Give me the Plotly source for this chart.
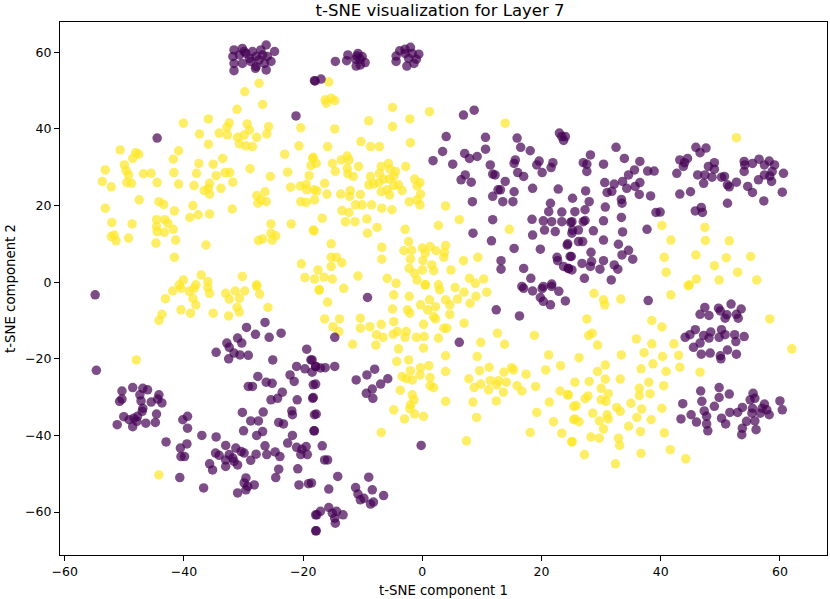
import plotly.graph_objects as go

# class 0 (purple) points: (x, y)
purple_x = [
    -31.6, -30.2, -28.5, -27.1, -26.2, -24.8, -31.8, -30.7, -29.6, -29.0, -27.9, -26.8, -26.0, -25.4, -31.6, -30.2,
    -28.8, -27.9, -26.5, -31.6, -28.0, -26.2, -29.9, -27.4, -18.0, -21.2, -44.5,
    -54.9, -54.7,
    -50.4, -48.6, -46.9, -46.1, -50.8, -50.4, -47.4, -47.2, -45.5, -44.2, -44.4, -43.7, -46.9, -47.0, -44.6, -50.1,
    -49.2, -47.8, -47.9, -51.2, -48.6, -46.4, -44.8, -48.4,
    -40.2, -39.4, -39.4, -43.0, -40.6, -39.5, -40.5, -39.9, -37.0, -34.6, -40.7, -36.7,
    -33.0, -31.3, -30.4, -34.7, -34.1, -32.4, -31.8, -33.0, -31.6, -31.0, -33.0, -35.7, -35.2, -29.9, -28.8, -27.9,
    -26.4, -26.1, -24.7, -23.9, -24.1, -24.6, -29.6, -29.9, -29.3, -28.2, -31.0, -29.6,
    -29.5, -28.0, -26.4, -25.7, -23.7, -32.8, -31.0, -30.3, -32.4, -34.6, -31.6, -30.6, -29.2, -32.5, -25.1, -29.2,
    -28.5, -27.6, -26.2, -25.2, -25.4, -24.3, -23.5, -22.2, -21.5, -21.1, -19.7, -19.4, -18.7, -18.5, -17.9, -18.3,
    -21.0, -18.4, -30.2, -28.8, -27.5, -26.7, -30.0, -27.8, -26.8, -24.1, -23.3, -21.9, -21.8, -22.6, -21.8, -21.1,
    -20.2, -20.4, -19.3, -19.5, -18.1, -18.1, -20.9, -20.7, -19.1, -17.9, -17.9,
    -9.2, -14.7, -18.5, -17.9, -17.1, -16.3, -14.7, -17.9, -18.3, -17.8, -18.2, -16.8, -16.4, -15.9,
    -11.1, -9.3, -8.0, -5.8, -7.0, -8.4, -9.4, -8.3, 6.2, -0.2, -18.6, -14.2, -15.7,
    -17.8, -17.7, -17.1, -15.7, -15.1, -14.4, -14.7, -13.3, -14.6,
    -11.2, -10.8, -9.8, -8.4, -9.0, -8.2, -8.7, -6.5, -10.4,
    17.0, 18.5, 20.1, 19.8, 20.3, 21.5, 22.9, 24.0, 21.7, 12.4, 16.3,
    37.9, 47.4, 49.7, 51.8, 53.5, 46.6, 48.1, 50.0, 51.1, 50.8, 52.7, 53.0, 45.8, 44.1, 44.9, 47.2,
    48.4, 50.2, 49.8, 50.8, 52.4, 54.0, 52.6, 45.5, 46.6, 48.1, 46.8, 48.3, 50.0, 51.2, 50.1, 52.7,
    46.7, 49.8, 49.8, 51.5, 43.7, 46.9, 47.3, 49.0, 45.1, 43.4, 46.0, 47.7, 47.7, 47.9, 50.2, 50.9,
    51.6, 52.9, 53.7, 55.0, 55.5, 55.8, 55.4, 55.3, 54.4, 53.7, 53.6, 55.8, 56.0, 56.7, 57.4, 57.8,
    58.2, 57.0, 60.0, 60.4,
    -14.6, -12.7, -12.5, -11.2, -10.8, -10.4, -9.6, -11.1, -10.4, -11.0, -10.1,
    -3.8, -2.9, -2.0, -4.4, -2.9, -1.7, -0.6, -4.4, -2.6, -1.4, -1.0, -2.3, -18.1, -17.0,
    6.9, 8.7, 4.0, 10.6, 15.9, 16.5, 18.1, 23.0, 23.4, 23.7, 1.8, 3.4, 5.1, 7.1, 7.9, 9.2,
    10.6, 11.4, 6.5, 7.2, 8.2, 11.8, 12.2, 13.9, 15.4, 15.6, 16.0, 17.0, 19.6, 19.2, 20.1, 21.9,
    21.6, 12.7, 13.1, 11.8, 13.5, 15.2, 15.4, 18.5, 22.8, 8.4, 11.8, 8.5, 11.6, 15.4, 13.2, 13.2,
    17.0, 18.2, 16.7, 18.4, 20.3, 21.5, 21.2, 20.5, 21.7, 22.3, 23.4, 24.9, 23.4, 18.5, 19.8, 22.6,
    22.7, 23.7, 24.5, 24.8, 24.3, 25.1, 20.3, 21.7,
    24.0, 32.5, 27.0, 27.6, 28.2, 27.6, 30.4, 33.9, 36.5, 35.6, 34.6, 33.6, 32.2, 30.6, 37.8, 38.9,
    36.5, 35.7, 34.3, 31.0, 31.8, 36.4, 38.3, 27.4, 25.2, 28.0, 33.4, 33.5, 30.7, 27.3, 25.6, 33.4,
    30.4, 39.2, 39.9, 25.1, 27.0, 27.3, 25.2, 26.2, 28.7, 33.6, 37.7, 30.4, 26.2, 26.9, 24.4, 32.9,
    28.3, 34.6, 33.5, 35.3, 25.0, 26.8, 28.4, 28.2, 29.8, 30.4, 32.2, 32.8, 24.5, 25.1, 27.2, 31.7,
    45.9, 46.6, 47.6, 43.2, 44.0, 44.5, 42.7, 43.8, 43.2, 45.0, 46.2, 47.4, 47.2, 48.0, 49.0, 49.0,
    48.6, 50.2, 50.7, 51.2, 51.5, 52.7, 51.2, 45.8, 46.8, 47.0, 54.0, 54.1, 55.4, 56.5, 57.4, 58.2,
    59.1, 54.0, 57.4, 58.3, 58.7, 60.6, 56.4, 58.6, 54.6, 55.4, 60.4, 57.3,
]
purple_y = [
    60.6, 61.0, 60.2, 60.6, 61.9, 60.2, 58.9, 59.3, 59.7, 58.4, 58.9, 59.3, 58.9, 57.6, 57.1, 57.1,
    57.6, 56.3, 57.1, 55.2, 55.8, 55.4, 60.2, 58.0, 52.5, 43.4, 37.6,
    -3.3, -23.0,
    -28.4, -27.5, -27.7, -28.1, -31.1, -30.5, -29.4, -31.0, -31.3, -29.4, -30.5, -31.5, -32.9, -33.7, -34.4, -35.1,
    -35.9, -35.0, -36.3, -37.2, -37.7, -36.8, -36.6, -35.5,
    -35.9, -35.0, -38.1, -41.7, -43.3, -42.2, -45.5, -45.5, -40.0, -40.4, -51.0, -53.7,
    -42.6, -43.3, -44.2, -44.6, -45.2, -45.0, -45.9, -46.4, -46.8, -47.7, -48.1, -47.4, -49.0, -44.6, -46.5, -44.9,
    -42.7, -45.0, -44.3, -45.5, -48.8, -51.0, -51.1, -52.4, -53.3, -52.9, -55.0, -54.2,
    -11.8, -13.6, -10.5, -14.4, -13.3, -15.9, -14.6, -15.9, -17.0, -18.3, -18.5, -19.0, -19.1, -20.0, -20.3, -27.2,
    -27.2, -24.6, -26.1, -26.4, -30.7, -30.3, -28.7, -24.2, -25.9, -22.0, -22.6, -17.5, -20.3, -23.5, -22.0, -26.8,
    -30.7, -30.3, -34.0, -36.2, -36.2, -33.9, -38.8, -40.0, -39.0, -36.6, -37.0, -33.6, -34.6, -42.0, -40.0, -43.1,
    -43.6, -45.0, -45.0, -42.9, -34.6, -38.8, -48.7, -52.9, -52.6, -60.7, -64.9,
    -4.0, -14.4, -20.3, -22.0, -22.4, -22.3, -22.0, -26.6, -30.1, -34.4, -38.8, -42.7, -46.4, -46.4,
    -25.5, -24.2, -22.7, -25.2, -26.6, -27.9, -29.0, -30.3, -15.7, -42.6, -52.4, -50.7, -54.0,
    -64.9, -60.7, -59.8, -58.8, -60.3, -59.8, -61.6, -60.7, -62.9,
    -53.6, -55.3, -56.4, -54.2, -50.9, -57.4, -57.9, -55.7, -56.8,
    -1.6, -2.3, -1.7, -4.0, -5.0, -5.9, -2.4, -4.9, -1.1, -7.2, -8.8,
    -4.8, -6.6, -6.8, -5.7, -7.0, -8.4, -8.7, -7.5, -8.5, -9.4, -8.4, -9.4, -12.4, -14.4, -13.7, -13.9,
    -13.0, -12.4, -14.4, -13.7, -13.7, -14.2, -15.5, -17.0, -15.9, -14.6, -18.8, -18.5, -19.2, -17.7, -20.0, -18.8,
    -28.4, -27.5, -30.1, -29.2, -31.7, -31.1, -33.6, -32.4, -34.6, -35.7, -36.5, -35.0, -37.0, -38.8, -35.5, -37.0,
    -34.0, -34.0, -32.7, -30.7, -29.0, -30.3, -32.9, -34.2, -36.3, -38.1, -39.8, -36.2, -38.5, -34.2, -31.8, -33.3,
    -34.6, -32.9, -31.0, -33.3,
    57.6, 57.8, 59.3, 58.2, 59.7, 58.2, 57.3, 56.4, 56.7, 59.0, 58.9,
    60.4, 60.8, 61.3, 59.0, 59.7, 59.7, 59.5, 57.6, 56.4, 57.1, 58.2, 58.4, 52.6, 53.0,
    43.6, 44.9, 38.0, 37.8, 37.6, 35.2, 34.3, 38.9, 38.0, 37.0, 31.7, 34.1, 30.8, 33.6, 32.3, 32.8,
    34.7, 30.6, 26.7, 28.0, 26.1, 28.2, 28.0, 26.3, 31.0, 31.9, 28.6, 27.6, 31.6, 30.6, 28.6, 31.2,
    29.9, 24.1, 24.1, 22.4, 21.0, 21.0, 23.6, 24.5, 24.3, 21.0, 16.3, 12.8, 10.8, 8.8, 5.6, 3.4,
    3.6, 1.0, -1.1, 16.4, 16.0, 20.6, 18.4, 13.6, 15.8, 13.2, 15.8, 15.6, 18.3, 12.3, 8.6, 6.5,
    5.6, 4.1, 3.6, 6.7, 9.7, 12.8, -1.1, -0.5,
    38.0, 35.2, 31.2, 30.8, 33.2, 28.9, 30.8, 32.3, 31.5, 29.3, 28.0, 26.3, 25.6, 26.0, 29.0, 29.0,
    26.0, 25.0, 24.5, 23.4, 23.7, 22.9, 22.5, 23.8, 21.9, 21.0, 21.6, 20.6, 19.6, 18.9, 18.4, 16.9,
    16.0, 18.2, 18.3, 15.8, 15.8, 16.1, 13.6, 13.6, 13.4, 13.1, 13.8, 11.0, 10.6, 10.6, 10.0, 9.9,
    7.8, 8.3, 7.1, 6.0, 6.7, 4.9, 5.4, 4.1, 3.4, 5.6, 4.5, 3.4, 3.6, 3.2, 1.0, 0.6,
    35.2, 33.8, 35.0, 31.9, 31.2, 32.3, 28.4, 30.2, 23.0, 23.6, 28.0, 28.0, 25.8, 30.2, 31.2, 29.5,
    27.4, 27.4, 27.6, 25.4, 24.9, 26.1, 20.6, 18.6, 19.5, 18.2, 31.5, 30.6, 31.0, 32.1, 30.6, 31.6,
    30.6, 28.9, 28.0, 27.7, 28.9, 28.4, 26.7, 26.3, 25.0, 23.4, 23.5, 21.2,
]

# class 1 (yellow) points: (x, y)
yellow_x = [
    -27.4, -29.8, -26.8, -31.1, -40.1, -35.9, -32.4, -32.8, -34.1, -32.7, -37.4, -29.4, -29.0, -29.9, -31.0, -27.8,
    -26.1, -25.8, -30.7, -29.6, -28.5, -35.9, -20.4, -20.7, -23.1, -18.4, -18.7, -50.7, -48.1, -47.6, -48.6, -40.9,
    -41.8, -53.2, -50.0, -49.7, -49.3, -46.8, -45.5, -37.5, -35.1, -33.5, -41.7, -37.9, -34.6, -33.1, -32.3, -28.9,
    -25.5, -22.6, -19.0, -53.7, -52.2, -49.6, -48.8, -44.5, -40.9, -38.3, -35.7, -35.9, -33.8, -31.8, -36.6, -35.7,
    -22.1, -20.5, -19.5, -19.4, -18.1, -47.5, -44.2, -43.4, -53.2, -38.5, -31.9, -27.8, -26.4, -27.6, -27.1, -26.2,
    -20.4, -19.5, -41.6, -39.0, -37.6, -35.7, -52.1, -48.7, -44.6, -44.6, -43.2, -42.7, -41.8, -44.5, -43.3, -52.2,
    -51.4, -51.7, -49.3, -44.7, -41.4, -36.3, -41.6, -25.4, -22.0, -25.4, -24.6, -25.2, -27.5, -26.8, -18.3, -20.3,
    -19.7, -18.1, -40.1, -37.1, -36.0, -30.2, -27.8, -38.0, -40.8,
    -41.9, -40.5, -39.1, -38.3, -38.5, -38.0, -38.9, -40.5, -43.1, -43.7, -44.2, -35.7, -36.0, -35.1, -33.0, -31.4,
    -29.8, -32.4, -30.7, -31.1, -32.5, -30.7, -27.3, -25.9, -27.8, -48.0, -44.2, -17.3,
    -17.3, -13.2, -15.9, -16.4, -13.9, -15.0, -14.0, -11.7, -10.4, -10.4, -8.8, -7.7, -6.9, -6.6, -7.8, -4.8,
    -2.2, -5.0, -2.5, -2.1, -4.8, -4.2, -4.9, -2.7, -2.9, -1.0, 0.2, 0.3, -0.3, 0.5, 1.2, 0.9,
    2.2, 1.9, 2.2, 2.7, 2.7, 2.9, 3.9, 4.6, 4.6, 3.6, 4.1, 5.5, 7.0, 5.9, 8.0, 9.0,
    10.8, 7.0, 12.6, 13.8, 9.8, 18.8, -4.0, 0.2, 3.9, 9.2, -4.3, -2.3, 1.1, -0.3, -2.0, -3.4,
    -2.7, -1.7, -0.4, 1.3, 3.9, 1.3, 1.9, -3.7, -1.7, -1.4, -2.0, -2.1, -4.8, -1.3, 0.2, -3.0,
    3.9, -6.9, 7.4, 7.8, 9.6, 11.2, 11.4, 12.8, 12.5, 14.1, 13.7, 15.0, 15.3, 8.7, 9.8, 11.1,
    13.6, 15.9, 16.7, 17.4, 19.0, 20.7, 21.2, 23.2, 8.5, 9.1, 12.4, 19.2, 21.3, 22.0, 23.1, 24.4,
    18.1, 23.4, 25.1, 25.4, 25.4,
    28.8, 30.4, 30.6, 33.3, 41.7, 44.6, 27.6, 38.5, 40.2, 27.9, 28.5, 29.4, 35.9, 38.5, 42.2, 26.3,
    33.4, 37.2, 40.3, 43.0, 30.7, 29.4, 36.7, 38.7, 40.9, 43.2, 46.6, 25.6, 28.0, 30.7, 33.2, 38.0,
    40.5, 24.5, 27.3, 27.8, 30.0, 31.2, 30.0, 30.8, 36.4, 36.4, 38.2, 25.8, 35.0, 32.6, 33.2, 36.8,
    40.2, 28.6, 31.0, 31.2, 25.6, 26.3, 29.7, 36.0, 38.4, 30.4, 34.6, 36.6, 40.6, 25.1, 28.3, 29.7,
    32.9, 33.1, 27.2, 32.4, 36.7, 41.6, 44.2, 58.3, 62.0,
    -15.7, -16.3, -16.1, -15.3, -14.7, -5.0, 1.2, -9.0, -2.1, 13.9, -14.7, -5.0, -10.3, -8.7, -7.2, -2.0,
    -15.9, -18.3, -17.8, -15.1, -13.6, -12.6, -12.3, -14.6, -12.6, -12.5, -11.6, -10.7, -6.9, -5.7, -4.5, -4.8,
    -5.4, -7.2, -8.7, -8.2, -9.0, -7.3, -6.5, -5.5, -4.8, -4.0, -5.9, -6.9, -5.5, -2.8, -1.3, -0.4,
    -0.9, -0.3, -3.4, -16.4, -17.7, -16.0, -13.7, -18.1, -12.1, -12.2, -10.4, -11.2, -10.1, -8.5, -13.5, -12.3,
    -16.8, -12.9, -11.3, -9.3, -9.2, -7.6, -6.8, -5.1, -2.2, -0.9, -0.4, -2.9, -18.2, 3.9, 2.7, 6.2,
    14.6, -2.3, -15.3, -6.8, -3.1, -1.8, 0.0, 0.5, 1.3, 2.3, 3.9, 3.7, 3.6, -6.8, -2.0, 0.1,
    1.6, 1.9, -2.2, -1.3, 0.0, 4.8, 6.9, 9.3, -15.3, -14.4, -13.5, -15.3, -17.5, -16.5, -15.1, -10.8,
    -5.9, -4.4, -0.9, 0.5, 7.9, 10.3, 8.9,
    52.7, 40.2, 47.4, 41.7, 47.5, 51.5, 40.6, 45.9, 51.0, 55.1, 49.0, 40.9, 52.9, 46.0, 49.8, 56.1,
    44.8,
]
yellow_y = [
    51.9, 49.7, 46.4, 45.1, 41.5, 42.6, 41.6, 40.4, 38.9, 38.4, 38.7, 41.3, 39.7, 38.4, 37.8, 37.8,
    38.7, 40.6, 36.1, 35.6, 35.4, 36.0, 40.3, 35.6, 33.4, 32.3, 30.4, 34.5, 33.8, 33.4, 32.3, 34.3,
    32.1, 29.3, 30.6, 29.1, 28.0, 28.3, 28.4, 31.0, 30.8, 32.3, 28.6, 28.4, 27.8, 28.6, 28.6, 29.6,
    27.6, 28.7, 27.8, 26.3, 24.9, 26.0, 25.8, 26.0, 25.6, 25.2, 25.8, 24.5, 24.5, 26.1, 23.9, 23.0,
    24.8, 25.1, 25.5, 24.1, 24.1, 21.5, 21.0, 20.3, 19.3, 20.0, 19.1, 22.6, 23.6, 20.6, 21.5, 21.0,
    21.0, 20.8, 18.6, 16.9, 17.6, 17.8, 15.6, 15.2, 16.3, 14.5, 16.3, 15.4, 13.8, 13.2, 13.0, 11.9,
    10.8, 12.3, 11.5, 10.2, 11.0, 9.7, 6.5, 15.2, 15.2, 12.8, 12.1, 11.0, 10.9, 11.3, 13.6, 4.8,
    1.2, 0.8, 0.6, 1.9, 0.2, 1.5, -0.7, -0.7, -0.7,
    -2.3, -1.6, -2.4, -1.6, -4.2, -5.9, -8.1, -7.2, -4.3, -8.4, -10.0, -2.9, -1.4, -8.1, -2.9, -2.3,
    -2.3, -4.4, -4.2, -6.6, -8.8, -7.8, -3.1, -6.6, -1.1, -20.3, -50.3, -2.0,
    -2.0, -1.6, -5.2, -9.6, -9.6, -11.6, -12.9, -16.2, -9.4, -12.0, -11.6, -13.7, -11.0, -14.4, -16.4, -3.3,
    -3.7, -7.0, -7.2, -8.1, -10.3, -12.9, -13.6, -12.9, -14.4, -14.4, -11.0, -14.2, -5.9, -0.7, -4.6, -7.2,
    -6.4, -9.0, -9.6, -14.6, -0.7, -2.0, -4.6, -5.9, -8.4, -12.0, -12.0, -1.4, -2.6, -4.4, -5.5, -3.7,
    -2.6, -10.7, -13.3, -16.2, -15.7, -13.9, -17.4, -17.2, -19.2, -19.4, -20.7, -20.3, -21.8, -22.3, -23.1, -24.6,
    -25.2, -25.5, -24.2, -24.9, -23.3, -27.0, -27.5, -28.2, -29.4, -30.7, -32.0, -33.0, -33.3, -34.4, -35.0, -35.7,
    -31.1, -39.2, -41.4, -25.2, -23.1, -22.2, -25.7, -25.7, -26.8, -26.1, -23.5, -22.3, -22.9, -27.5, -26.6, -28.1,
    -28.7, -27.0, -28.4, -24.0, -27.2, -22.9, -19.0, -21.8, -31.3, -35.3, -31.0, -34.0, -31.3, -36.4, -28.4, -29.4,
    -39.2, -39.4, -41.6, -35.9, -32.4,
    -2.9, -4.6, -5.9, -4.4, -3.3, -0.9, -9.6, -10.0, -11.7, -13.9, -13.3, -16.4, -14.8, -16.1, -16.1, -19.7,
    -19.0, -18.4, -19.4, -19.1, -21.6, -23.3, -22.6, -21.3, -23.3, -22.2, -23.5, -26.1, -25.9, -25.3, -25.3, -26.1,
    -27.0, -29.4, -30.4, -29.7, -27.7, -29.1, -30.7, -31.1, -27.7, -29.6, -29.1, -32.2, -31.6, -32.7, -33.7, -33.1,
    -32.9, -34.2, -34.6, -35.7, -35.7, -36.4, -36.2, -35.3, -35.9, -38.3, -37.6, -39.0, -39.3, -41.7, -40.4, -40.7,
    -40.7, -42.6, -45.0, -47.4, -44.7, -43.7, -46.1, -9.6, -17.4,
    52.3, 47.6, 46.7, 48.0, 47.4, 45.6, 44.5, 42.1, 42.6, 41.5, 40.0, 40.6, 36.7, 35.4, 35.4, 36.4,
    35.4, 32.6, 31.0, 31.0, 31.9, 32.9, 31.9, 28.9, 29.7, 28.3, 27.6, 30.2, 30.2, 31.0, 28.9, 27.6,
    29.5, 28.4, 27.6, 25.6, 25.4, 26.0, 26.9, 26.9, 25.2, 25.4, 24.1, 23.6, 22.8, 30.2, 26.9, 26.0,
    25.1, 23.0, 23.9, 25.8, 23.8, 23.0, 23.0, 21.5, 23.9, 22.4, 22.9, 20.2, 20.2, 20.2, 18.7, 18.2,
    16.7, 15.8, 15.8, 16.5, 12.8, 14.3, 19.3, 18.9, 21.0, 21.5, 20.2, 13.8, 13.4, 19.9, 14.8, 16.3,
    13.8, 10.6, 10.0, 9.1, 8.2, 8.3, 8.9, 7.6, 9.3, 8.2, 9.6, 7.8, 6.5, 6.0, 6.0, 5.6,
    4.5, 3.0, 3.6, 2.3, 3.2, 3.2, 5.6, 6.5, 6.5, 6.5, 5.1, 4.1, 3.2, 1.3, 0.8, 1.6,
    1.0, -0.3, 0.6, -0.7, 1.0, 0.8, -0.3,
    37.7, 14.8, 14.3, 11.0, 10.9, 10.8, 6.5, 7.1, 6.4, 6.7, 4.3, 2.6, 2.6, 0.8, 0.6, 0.6,
    -0.7,
]

title_text = "t-SNE visualization for Layer 7"
x_label = "t-SNE component 1"
y_label = "t-SNE component 2"
tick_vals = [-60, -40, -20, 0, 20, 40, 60]

FONT = "DejaVu Sans, Liberation Sans, sans-serif"

fig = go.Figure()
fig.add_trace(go.Scatter(x=yellow_x, y=yellow_y, mode="markers",
                         marker=dict(size=9.5, color="rgba(253,231,37,0.7)", line=dict(width=0)),
                         showlegend=False, hoverinfo="skip"))
fig.add_trace(go.Scatter(x=purple_x, y=purple_y, mode="markers",
                         marker=dict(size=9.5, color="rgba(68,1,84,0.7)", line=dict(width=0)),
                         showlegend=False, hoverinfo="skip"))

axis_common = dict(showgrid=False, zeroline=False, showline=True, mirror=True,
                   linecolor="black", linewidth=1, ticks="outside", ticklen=5,
                   tickcolor="black", tickwidth=1, automargin=False,
                   tickfont=dict(family=FONT, size=12.5, color="black"))

fig.update_layout(
    width=830, height=599,
    margin=dict(l=60, r=3, t=22, b=44),
    paper_bgcolor="white", plot_bgcolor="white",
    title=dict(text=title_text, x=440 / 830, xanchor="center", xref="container",
               y=1 - 10 / 599, yanchor="middle",
               font=dict(family=FONT, size=16.5, color="black")),
    xaxis=dict(range=[-60.8, 67.9], tickvals=tick_vals,
               title=dict(text=x_label, font=dict(family=FONT, size=13.3, color="black"), standoff=7),
               **axis_common),
    yaxis=dict(range=[-71.2, 67.9], tickvals=tick_vals,
               title=dict(text=y_label, font=dict(family=FONT, size=13.3, color="black"), standoff=6),
               **axis_common),
)

fig.write_html("out.html", config={"displayModeBar": False},
               post_script="document.body.style.margin='0px';")
